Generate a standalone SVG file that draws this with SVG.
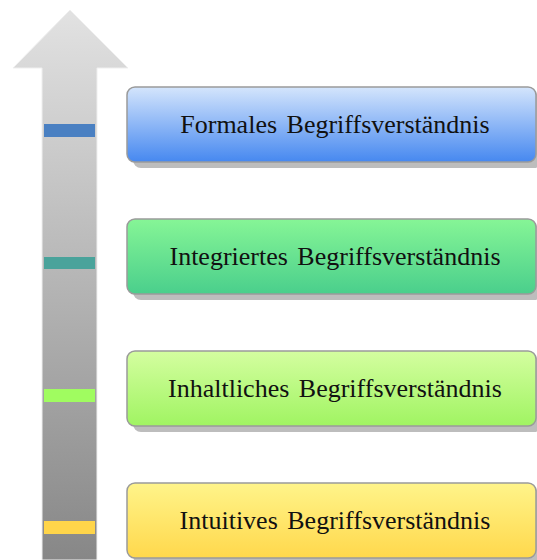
<svg xmlns="http://www.w3.org/2000/svg" width="537" height="560" viewBox="0 0 537 560">
<defs>
<linearGradient id="gArrow" gradientUnits="userSpaceOnUse" x1="0" y1="10" x2="0" y2="560">
<stop offset="0" stop-color="#e2e2e2"/>
<stop offset="1" stop-color="#878787"/>
</linearGradient>
<linearGradient id="gBlue" x1="0" y1="0" x2="0" y2="1">
<stop offset="0" stop-color="#d4e5fc"/>
<stop offset="1" stop-color="#4688f0"/>
</linearGradient>
<linearGradient id="gGreen" x1="0" y1="0" x2="0" y2="1">
<stop offset="0" stop-color="#86f596"/>
<stop offset="1" stop-color="#4acf8c"/>
</linearGradient>
<linearGradient id="gLime" x1="0" y1="0" x2="0" y2="1">
<stop offset="0" stop-color="#d4fea0"/>
<stop offset="1" stop-color="#a0f462"/>
</linearGradient>
<linearGradient id="gYellow" x1="0" y1="0" x2="0" y2="1">
<stop offset="0" stop-color="#fff48a"/>
<stop offset="1" stop-color="#ffd84c"/>
</linearGradient>
<style>
.box{stroke:#9a9a9a;stroke-width:1.5}
.shadow{fill:#bdbdbd}
.lbl{font-family:"Liberation Serif","DejaVu Serif",serif;font-size:26px;fill:#111;text-anchor:middle;word-spacing:3px}
</style>
</defs>
<g id="arrow">
<path d="M42,560 L42,68 L13,68 L70,10 L128,68 L97,68 L97,560 Z" fill="url(#gArrow)" stroke="#efefef" stroke-width="1"/>
<rect x="44" y="124" width="51" height="13" fill="#4a80c2"/>
<rect x="44" y="257" width="51" height="12" fill="#4aa39b"/>
<rect x="44" y="389" width="51" height="13" fill="#a0fc60"/>
<rect x="44" y="521" width="51" height="13" fill="#ffd54a"/>
</g>
<g id="node-formal">
<rect class="shadow" x="133" y="93" width="409" height="75" rx="8"/>
<rect class="box" x="127" y="87" width="409" height="75" rx="8" fill="url(#gBlue)"/>
<text class="lbl" x="335" y="133">Formales Begriffsverständnis</text>
</g>
<g id="node-integriert">
<rect class="shadow" x="133" y="225" width="409" height="75" rx="8"/>
<rect class="box" x="127" y="219" width="409" height="75" rx="8" fill="url(#gGreen)"/>
<text class="lbl" x="335" y="265">Integriertes Begriffsverständnis</text>
</g>
<g id="node-inhaltlich">
<rect class="shadow" x="133" y="357" width="409" height="75" rx="8"/>
<rect class="box" x="127" y="351" width="409" height="75" rx="8" fill="url(#gLime)"/>
<text class="lbl" x="335" y="397">Inhaltliches Begriffsverständnis</text>
</g>
<g id="node-intuitiv">
<rect class="shadow" x="133" y="489" width="409" height="75" rx="8"/>
<rect class="box" x="127" y="483" width="409" height="75" rx="8" fill="url(#gYellow)"/>
<text class="lbl" x="335" y="529">Intuitives Begriffsverständnis</text>
</g>
<g id="connectors"/>
</svg>
